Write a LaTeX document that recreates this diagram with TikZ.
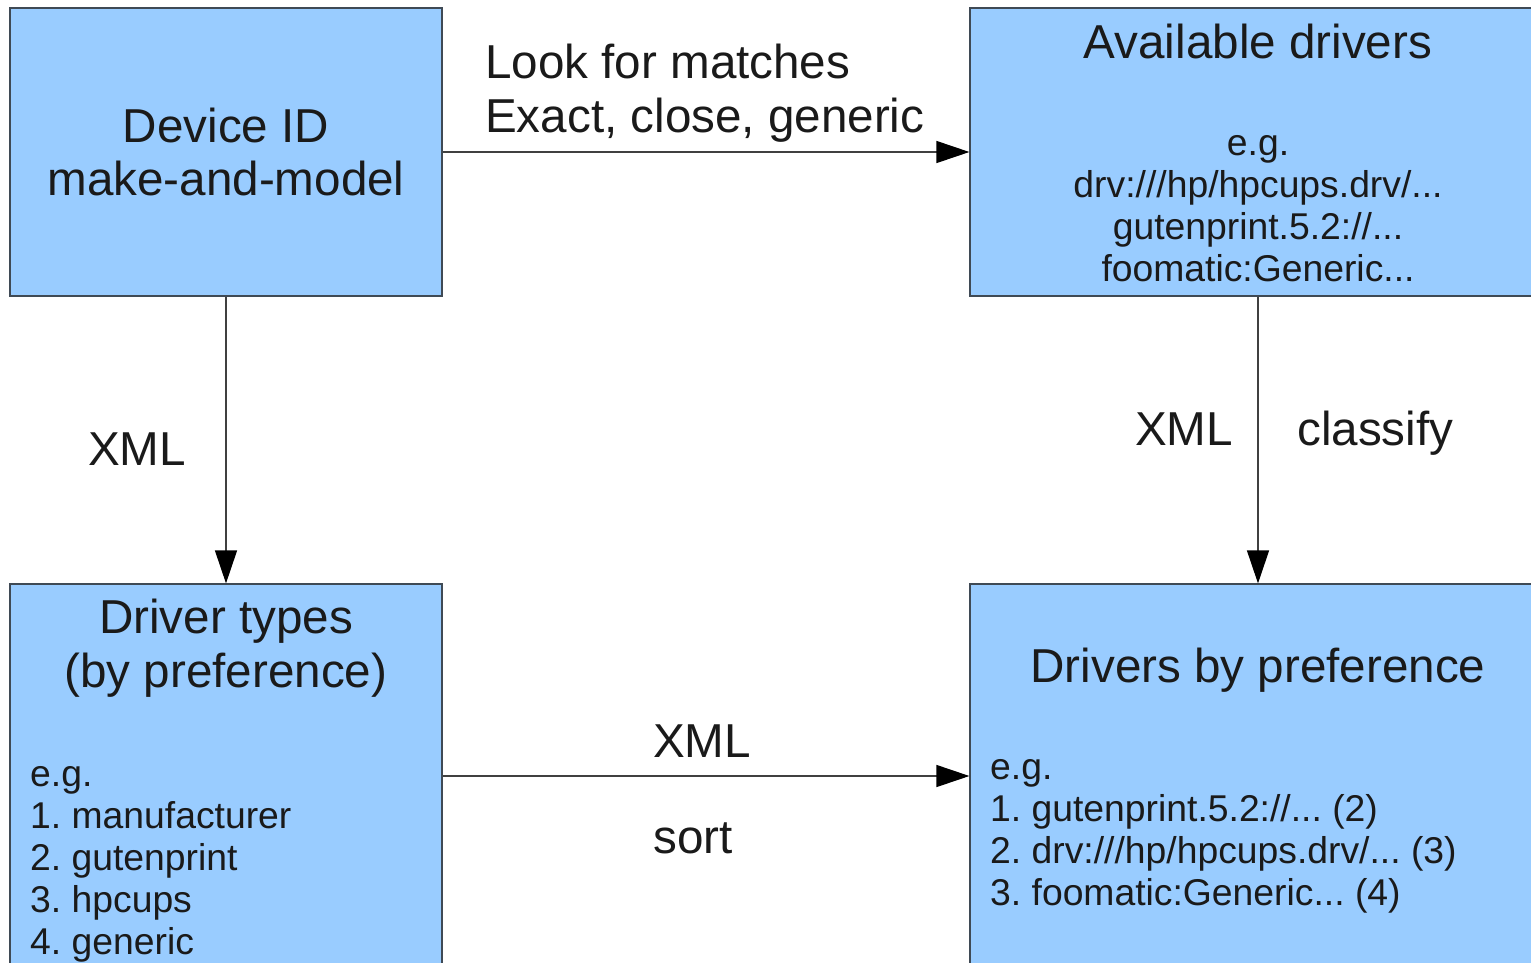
\documentclass[tikz,border=0pt]{standalone}
\usepackage{fontspec}
\setmainfont{Liberation Sans}
\usepackage{xcolor}
\usetikzlibrary{arrows.meta,positioning,calc}
\definecolor{boxblue}{HTML}{99CCFF}
\definecolor{boxline}{HTML}{3F4A55}
\definecolor{ink}{HTML}{1A1A1A}
\frenchspacing
\tikzset{
  box/.style = {draw = boxline, fill = boxblue, line width = 1.2pt, inner sep = 0pt},
  big/.style = {inner sep = 0pt, text = ink, font = \fontsize{47.6}{54}\selectfont},
  small/.style = {inner sep = 0pt, text = ink, font = \fontsize{37.3}{42}\selectfont},
  arr/.style = {-{Triangle[length = 33pt, width = 22pt, color = black]}, line width = 1.2pt, draw = black!75}
}

\begin{document}
\begin{tikzpicture}[x = 1pt, y = -1pt]
\useasboundingbox (0,0) rectangle (1531,962);
\clip (0,0) rectangle (1531,962);
\node[box, minimum width = 432, minimum height = 288] (devid) at (226,152) {};
\node[box, minimum width = 576, minimum height = 288] (avail) at (1258,152) {};
\node[box, minimum width = 432, minimum height = 384] (types) at (226,776) {};
\node[box, minimum width = 576, minimum height = 384] (prefs) at (1258,776) {};
\draw[arr] (devid) -- (avail);
\draw[arr] (devid) -- (types);
\draw[arr] (avail) -- (prefs);
\draw[arr] (types) -- (prefs);
% box texts
\node[big, anchor = base] (devid1) at (226,142) {Device ID};
\node[big, anchor = base] (devid2) at (226,195) {make-and-model};
\node[big, anchor = base] (avail1) at (1258,58) {Available drivers};
\foreach \n/\t in {0/{e.g.}, 1/{drv:///hp/hpcups.drv/...}, 2/{gutenprint.5.2://...}, 3/{foomatic:Generic...}}
  \node[small, anchor = base] (availex\n) at (1258,155+42*\n) {\t};
\node[big, anchor = base] (types1) at (226,633) {Driver types};
\node[big, anchor = base] (types2) at (226,687) {(by preference)};
\foreach \n/\t in {0/{e.g.}, 1/{1. manufacturer}, 2/{2. gutenprint}, 3/{3. hpcups}, 4/{4. generic}}
  \node[small, anchor = base west] (typesex\n) at (30,786+42*\n) {\t};
\node[big, anchor = base] (prefs1) at (1258,682) {Drivers by preference};
\foreach \n/\t in {0/{e.g.}, 1/{1. gutenprint.5.2://... (2)}, 2/{2. drv:///hp/hpcups.drv/... (3)}, 3/{3. foomatic:Generic... (4)}}
  \node[small, anchor = base west] (prefsex\n) at (990,779+42*\n) {\t};
% arrow labels
\node[big, anchor = base west] (look1) at (485,78) {Look for matches};
\node[big, anchor = base west] (look2) at (485,132) {Exact, close, generic};
\node[big, anchor = base west] (xmlleft) at (88,465) {XML};
\node[big, anchor = base west] (xmlright) at (1135,445) {XML};
\node[big, anchor = base west] (classify) at (1297,445) {classify};
\node[big, anchor = base west] (xmlsort) at (653,757) {XML};
\node[big, anchor = base west] (sort) at (653,853) {sort};
\end{tikzpicture}
\end{document}
